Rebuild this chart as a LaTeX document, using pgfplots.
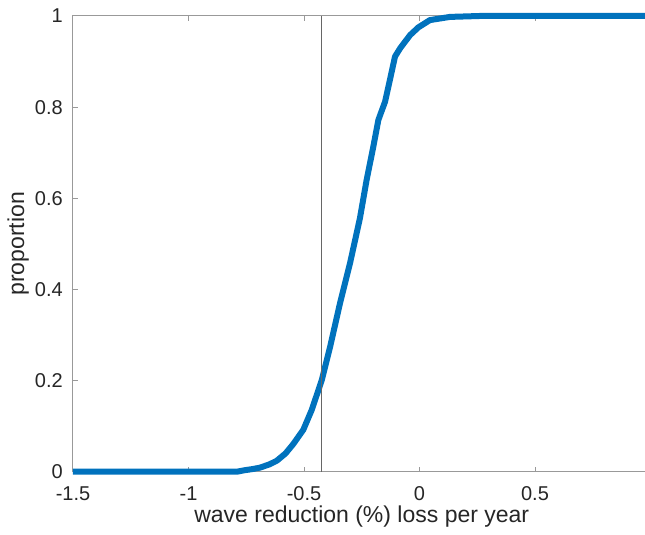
\documentclass[border=0pt]{standalone}
\usepackage{fontspec}
\setmainfont{Liberation Sans}
\usepackage{pgfplots}
\pgfplotsset{compat=1.18}
\definecolor{mblue}{RGB}{0,114,189}
\definecolor{tlab}{RGB}{38,38,38}
\begin{document}
\begin{tikzpicture}
\path[use as bounding box, clip] (0,0) rectangle (645pt,535pt);
\begin{axis}[
  at={(73pt,63.3pt)}, anchor=south west,
  scale only axis, width=577.5pt, height=455.7pt,
  xmin=-1.5, xmax=1, ymin=0, ymax=1,
  xtick={-1.5,-1,-0.5,0,0.5},
  ytick={0,0.2,0.4,0.6,0.8,1},
  tick align=inside, major tick length=5pt,
  axis line style={black!40, line width=1pt},
  every tick/.style={black!40, line width=1pt},
  tick label style={font=\fontsize{20}{24}\selectfont, text=tlab, inner sep=0pt},
  /pgf/number format/assume math mode=true,
  xticklabel style={anchor=base, yshift=-28.5pt},
  yticklabel style={anchor=east, xshift=-10pt},
  label style={font=\fontsize{23}{27}\selectfont, text=tlab, inner sep=0pt},
  xlabel={wave reduction (\%) loss per year},
  ylabel={proportion},
  xlabel style={at={(axis description cs:0.5,-0.1104)}, anchor=base},
  ylabel style={at={(axis description cs:-0.0762,0.5)}, anchor=south},
  clip=false,
]
\addplot[mblue, line width=6pt, line join=round] coordinates {
(-1.5,0) (-0.79,0) (-0.76,0.003) (-0.72,0.006) (-0.69,0.009) (-0.65,0.016)
(-0.618,0.024) (-0.58,0.040) (-0.546,0.061) (-0.503,0.092) (-0.467,0.135)
(-0.423,0.201) (-0.387,0.274) (-0.344,0.370) (-0.301,0.457) (-0.258,0.556)
(-0.229,0.640) (-0.200,0.713) (-0.178,0.772) (-0.149,0.812) (-0.128,0.860)
(-0.106,0.911) (-0.084,0.929) (-0.041,0.958) (-0.005,0.975) (0.045,0.991)
(0.132,0.998) (0.26,1) (1,1)
};
\addplot[black!60, line width=1pt] coordinates {(-0.423,0) (-0.423,1)};
\end{axis}
\end{tikzpicture}
\end{document}
